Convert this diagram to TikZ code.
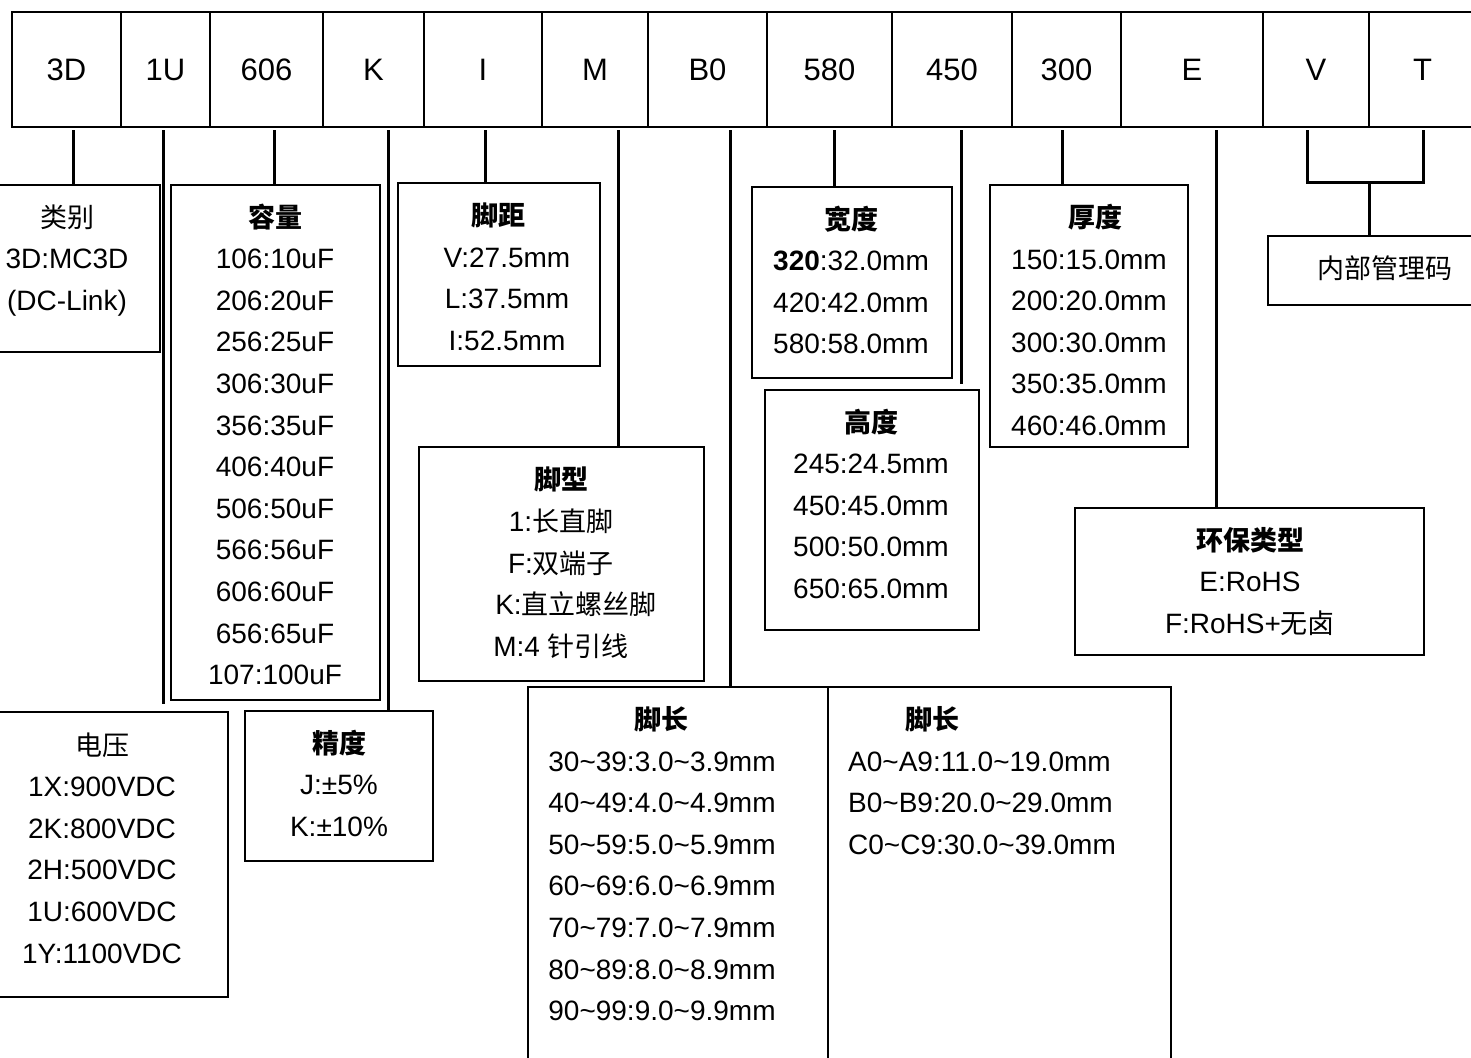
\documentclass[tikz,border=0pt]{standalone}
\usepackage{fontspec}
\setmainfont{Liberation Sans}
\newfontfamily\cjk{Noto Sans CJK SC}
\newcommand\cj[1]{{\cjk\fontsize{27}{30}\selectfont #1}}
\newcommand\cjb[1]{{\cjk\bfseries\fontsize{27}{30}\selectfont #1}}
\newcommand\tld{\textasciitilde}
\tikzset{
  cell/.style={draw, line width=2.8pt, inner sep=0pt, outer sep=0pt, minimum height=115pt, font=\fontsize{31}{36}\selectfont},
  bx/.style={draw, line width=2.6pt, inner sep=0pt, outer sep=0pt},
  conn/.style={line width=3pt, line join=miter},
  txt/.style={inner sep=0pt, anchor=base, font=\fontsize{28}{34}\selectfont},
}
\newcommand\boxat[5]{\node[bx, minimum width={#4-(#2)}, minimum height={#5-(#3)}] (#1) at ({(#2+#4)/2},{(#3+#5)/2}) {};}
\newcommand\lines[5][]{\foreach \x [count=\i from 0] in {#5} \node[txt,#1] (#2-\i) at (#3,{#4+41.6*\i}) {\x};}
\begin{document}
\begin{tikzpicture}[x=1pt,y=-1pt]
\useasboundingbox (0,0) rectangle (1471,1057);
\clip (0,0) rectangle (1471,1057);
% top row
\foreach \l/\r/\t [count=\i] in {12/121/3D,121/210/1U,210/323/606,323/424/K,424/542/I,542/648/M,648/767/B0,767/892/580,892/1012/450,1012/1121/300,1121/1263/E,1263/1369/V,1369/1476/T}
  \node[cell, minimum width={\r-\l}] (c\i) at ({(\l+\r)/2},69.5) {\t};
% boxes
\boxat{kind}{-10}{185}{160}{352}
\boxat{cap}{171}{185}{380}{700}
\boxat{pitch}{398}{183}{600}{366}
\boxat{wid}{752}{187}{952}{378}
\boxat{hgt}{765}{390}{979}{630}
\boxat{thk}{990}{185}{1188}{447}
\boxat{code}{1268}{236}{1490}{305}
\boxat{env}{1075}{508}{1424}{655}
\boxat{type}{419}{447}{704}{681}
\boxat{volt}{-10}{712}{228}{997}
\boxat{prec}{245}{711}{433}{861}
\boxat{lenA}{528}{687}{828}{1080}
\boxat{lenB}{828}{687}{1171}{1080}
% connectors
\coordinate (p1) at (73,130);
\coordinate (p2) at (163,130);
\coordinate (p3) at (274,130);
\coordinate (p4) at (388,130);
\coordinate (p5) at (485,130);
\coordinate (p6) at (618,130);
\coordinate (p7) at (730,130);
\coordinate (p8) at (834,130);
\coordinate (p9) at (961,130);
\coordinate (p10) at (1062,130);
\coordinate (p11) at (1216,130);
\coordinate (p12) at (1307,130);
\coordinate (p13) at (1423,130);
\coordinate (pj) at (1369,182);
\draw[conn] (p1) -- (p1 |- kind.north);
\draw[conn, shorten >=8pt] (p2) -- (p2 |- volt.north);
\draw[conn] (p3) -- (p3 |- cap.north);
\draw[conn] (p4) -- (p4 |- prec.north);
\draw[conn] (p5) -- (p5 |- pitch.north);
\draw[conn] (p6) -- (p6 |- type.north);
\draw[conn] (p7) -- (p7 |- lenA.north);
\draw[conn] (p8) -- (p8 |- wid.north);
\draw[conn, shorten >=6pt] (p9) -- (p9 |- hgt.north);
\draw[conn] (p10) -- (p10 |- thk.north);
\draw[conn] (p11) -- (p11 |- env.north);
\draw[conn] (p12) -- (p12 |- pj) -- (p13 |- pj) -- (p13);
\draw[conn] (pj) -- (pj |- code.north);
% texts
\lines{tk}{67}{227}{\cj{类别}, 3D:MC3D, (DC-Link)}
\lines{tc}{275}{227}{\cjb{容量}, 106:10uF, 206:20uF, 256:25uF, 306:30uF, 356:35uF, 406:40uF, 506:50uF, 566:56uF, 606:60uF, 656:65uF, 107:100uF}
\node[txt] (tp) at (498,225) {\cjb{脚距}};
\lines{tpl}{507}{267}{V:27.5mm, L:37.5mm, I:52.5mm}
\lines{tw}{851}{229}{\cjb{宽度}, \textbf{320}:32.0mm, 420:42.0mm, 580:58.0mm}
\lines{th}{871}{432}{\cjb{高度}, 245:24.5mm, 450:45.0mm, 500:50.0mm, 650:65.0mm}
\node[txt] (tt) at (1095,227) {\cjb{厚度}};
\lines{ttl}{1089}{269}{150:15.0mm, 200:20.0mm, 300:30.0mm, 350:35.0mm, 460:46.0mm}
\node[txt] (tcode) at (1385,278) {\cj{内部管理码}};
\lines{te}{1250}{550}{\cjb{环保类型}, E:RoHS, F:RoHS+\cj{无卤}}
\node[txt] (ty0) at (561,489) {\cjb{脚型}};
\node[txt] (ty1) at (561,531) {1:\cj{长直脚}};
\node[txt] (ty2) at (561,573) {F:\cj{双端子}};
\node[txt] (ty3) at (576,614) {K:\cj{直立螺丝脚}};
\node[txt] (ty4) at (561,656) {M:4 \cj{针引线}};
\lines{tv}{102}{755}{\cj{电压}, 1X:900VDC, 2K:800VDC, 2H:500VDC, 1U:600VDC, 1Y:1100VDC}
\lines{tr}{339}{753}{\cjb{精度}, J:\textpm5\%, K:\textpm10\%}
\node[txt] (la) at (661,729) {\cjb{脚长}};
\lines{tla}{662}{771}{30\tld39:3.0\tld3.9mm, 40\tld49:4.0\tld4.9mm, 50\tld59:5.0\tld5.9mm, 60\tld69:6.0\tld6.9mm, 70\tld79:7.0\tld7.9mm, 80\tld89:8.0\tld8.9mm, 90\tld99:9.0\tld9.9mm}
\node[txt] (lb) at (932,729) {\cjb{脚长}};
\lines[anchor=base west]{tlb}{848}{771}{A0\tld A9:11.0\tld19.0mm, B0\tld B9:20.0\tld29.0mm, C0\tld C9:30.0\tld39.0mm}
\end{tikzpicture}
\end{document}
